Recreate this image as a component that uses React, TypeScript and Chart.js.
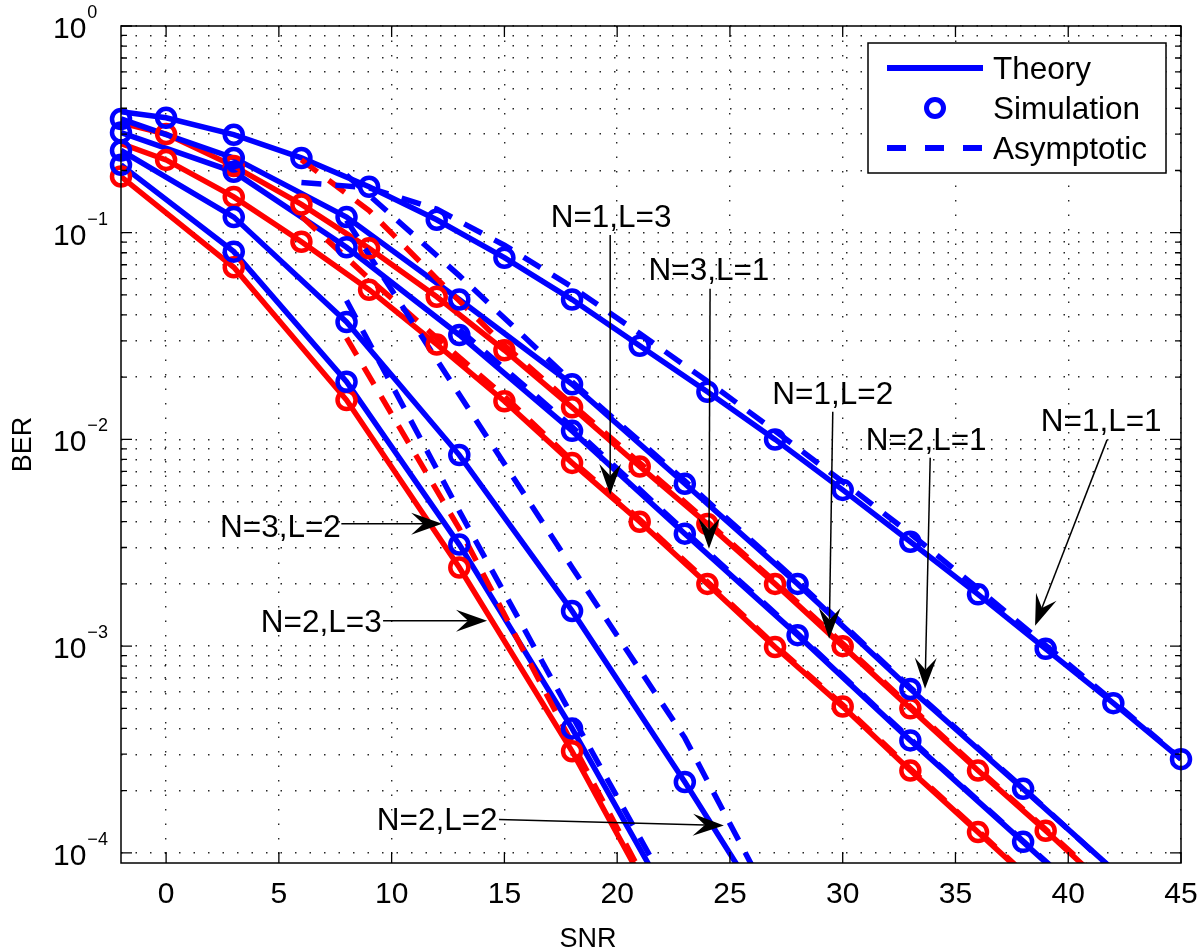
import React, { useEffect, useRef } from 'react';
import { Chart, registerables } from 'chart.js';

Chart.register(...registerables);

// ---------- axis / tick data ----------
const xMin = -2;
const xMax = 45;
const yMin = 0.0000893;
const yMax = 1;
const xTickValues = [0, 5, 10, 15, 20, 25, 30, 35, 40, 45];
const xTickLabels = ['0', '5', '10', '15', '20', '25', '30', '35', '40', '45'];
const yMajorValues = [0.0001, 0.001, 0.01, 0.1, 1];
const yMajorExponents = ['\u22124', '\u22123', '\u22122', '\u22121', '0'];
const yMinorFactors = [2, 3, 4, 5, 6, 7, 8, 9];
const xAxisTitle = 'SNR';
const yAxisTitle = 'BER';
const legendLabels = ['Theory', 'Simulation', 'Asymptotic'];

// ---------- theory curves ----------
const thN1L1X = [-2, 0, 3, 6, 9, 12, 15, 18, 21, 24, 27, 30, 33, 36, 39, 42, 45];
const thN1L1Y = [0.385, 0.36, 0.298, 0.23, 0.167, 0.1155, 0.0757, 0.0475, 0.0284, 0.017, 0.01, 0.0057, 0.0032, 0.00178, 0.00097, 0.00053, 0.000284];

const thN2L1X = [-2, 3, 8, 13, 18, 23, 28, 33, 38, 43];
const thN2L1Y = [0.355, 0.23, 0.119, 0.0475, 0.0185, 0.0061, 0.002, 0.00062, 0.000204, 0.000066];

const thN3L1X = [-2, 3, 8, 13, 18, 23, 28, 33, 38, 43];
const thN3L1Y = [0.305, 0.197, 0.085, 0.032, 0.011, 0.0035, 0.00113, 0.00035, 0.000113, 0.000036];

const thN2L2X = [-2, 3, 8, 13, 18, 23, 28];
const thN2L2Y = [0.25, 0.119, 0.037, 0.0084, 0.00148, 0.00022, 0.00003];

const thN3L2X = [-2, 3, 8, 13, 18, 23];
const thN3L2Y = [0.213, 0.081, 0.019, 0.0031, 0.0004, 0.000043];

const thN2L3X = [-2, 3, 8, 13, 18, 23];
const thN2L3Y = [0.187, 0.068, 0.0155, 0.0024, 0.00031, 0.000031];

const thN1L3X = [-2, 0, 3, 6, 9, 12, 15, 18, 21, 24, 27, 30, 33, 36, 39];
const thN1L3Y = [0.27, 0.225, 0.149, 0.0905, 0.053, 0.0288, 0.0153, 0.0077, 0.004, 0.002, 0.00099, 0.00051, 0.00025, 0.000126, 0.000063];

const thN1L2X = [-2, 0, 3, 6, 9, 12, 15, 18, 21, 24, 27, 30, 33, 36, 39, 42];
const thN1L2Y = [0.34, 0.3, 0.21, 0.137, 0.084, 0.049, 0.027, 0.0143, 0.0074, 0.0039, 0.002, 0.001, 0.0005, 0.00025, 0.000128, 0.000064];

// ---------- simulation points ----------
const simN1L1X = [0, 3, 6, 9, 12, 15, 18, 21, 24, 27, 30, 33, 36, 39, 42, 45];
const simN1L1Y = [0.36, 0.298, 0.23, 0.167, 0.1155, 0.0757, 0.0475, 0.0284, 0.017, 0.01, 0.0057, 0.0032, 0.00178, 0.00097, 0.00053, 0.000284];

const simN2L1X = [-2, 3, 8, 13, 18, 23, 28, 33, 38];
const simN2L1Y = [0.355, 0.23, 0.119, 0.0475, 0.0185, 0.0061, 0.002, 0.00062, 0.000204];

const simN3L1X = [-2, 3, 8, 13, 18, 23, 28, 33, 38];
const simN3L1Y = [0.305, 0.197, 0.085, 0.032, 0.011, 0.0035, 0.00113, 0.00035, 0.000113];

const simN2L2X = [-2, 3, 8, 13, 18, 23];
const simN2L2Y = [0.25, 0.119, 0.037, 0.0084, 0.00148, 0.00022];

const simN3L2X = [-2, 3, 8, 13, 18];
const simN3L2Y = [0.213, 0.081, 0.019, 0.0031, 0.0004];

const simN2L3X = [-2, 3, 8, 13, 18];
const simN2L3Y = [0.187, 0.068, 0.0155, 0.0024, 0.00031];

const simN1L3X = [0, 3, 6, 9, 12, 15, 18, 21, 24, 27, 30, 33, 36];
const simN1L3Y = [0.225, 0.149, 0.0905, 0.053, 0.0288, 0.0153, 0.0077, 0.004, 0.002, 0.00099, 0.00051, 0.00025, 0.000126];

const simN1L2X = [0, 3, 6, 9, 12, 15, 18, 21, 24, 27, 30, 33, 36, 39];
const simN1L2Y = [0.3, 0.21, 0.137, 0.084, 0.049, 0.027, 0.0143, 0.0074, 0.0039, 0.002, 0.001, 0.0005, 0.00025, 0.000128];

// ---------- asymptotic curves ----------
const asN1L1X = [6, 9, 12, 15, 18, 21, 24, 27, 30, 33, 36, 39, 42, 45];
const asN1L1Y = [0.175, 0.165, 0.13, 0.087, 0.0546, 0.0325, 0.0191, 0.011, 0.00624, 0.0035, 0.0019, 0.00101, 0.00054, 0.000285];

const asN2L1X = [8, 13, 18, 23, 28, 33, 38, 43];
const asN2L1Y = [0.19, 0.062, 0.019, 0.0063, 0.00205, 0.00063, 0.000206, 0.000065];

const asN3L1X = [13, 18, 23, 28, 33, 38, 43];
const asN3L1Y = [0.034, 0.0115, 0.0036, 0.00115, 0.000355, 0.000114, 0.000037];

const asN2L2X = [8, 13, 18, 23, 28];
const asN2L2Y = [0.115, 0.0165, 0.0024, 0.00036, 0.000033];

const asN3L2X = [8, 13, 18, 23];
const asN3L2Y = [0.047, 0.0045, 0.00046, 0.000048];

const asN2L3X = [8, 13, 18, 23];
const asN2L3Y = [0.031, 0.0037, 0.00034, 0.000032];

const asN1L2X = [6, 9, 12, 15, 18, 21, 24, 27, 30, 33, 36, 39, 42];
const asN1L2Y = [0.225, 0.128, 0.06, 0.0285, 0.0148, 0.0077, 0.004, 0.00205, 0.00103, 0.00051, 0.000255, 0.00013, 0.000066];

const asN1L3X = [6, 9, 12, 15, 18, 21, 24, 27, 30, 33, 36, 39];
const asN1L3Y = [0.12, 0.06, 0.031, 0.0162, 0.0079, 0.0041, 0.00205, 0.00101, 0.00052, 0.000255, 0.000128, 0.000064];

// ---------- annotations (data coordinates) ----------
const annoLabels = ['N=1,L=3', 'N=3,L=1', 'N=1,L=2', 'N=2,L=1', 'N=1,L=1', 'N=3,L=2', 'N=2,L=3', 'N=2,L=2'];
const annoTextX = [19.73, 24.07, 29.56, 33.7, 41.46, 5.07, 6.88, 12.02];
const annoTextY = [0.1206, 0.0668, 0.0168, 0.01007, 0.01245, 0.00382, 0.001327, 0.000145];
const arrowFromX = [19.69, 24.12, 29.56, 33.88, 41.72, 7.77, 9.62, 14.76];
const arrowFromY = [0.0976, 0.0535, 0.0136, 0.00815, 0.00995, 0.00391, 0.001327, 0.000145];
const arrowToX = [19.69, 24.07, 29.4, 33.65, 38.53, 12.24, 14.23, 24.73];
const arrowToY = [0.0054, 0.00296, 0.001086, 0.000622, 0.001256, 0.00391, 0.001327, 0.0001355];

// ---------- styling ----------
const BLUE = '#0000ff';
const RED = '#ff0000';
const FONT = '"Liberation Sans", Arial, Helvetica, sans-serif';

const pts = (xs: number[], ys: number[]) => xs.map((x, i) => ({ x, y: ys[i] }));

const theorySeries = [
  { x: thN1L1X, y: thN1L1Y, c: BLUE },
  { x: thN2L1X, y: thN2L1Y, c: BLUE },
  { x: thN3L1X, y: thN3L1Y, c: BLUE },
  { x: thN2L2X, y: thN2L2Y, c: BLUE },
  { x: thN3L2X, y: thN3L2Y, c: BLUE },
  { x: thN2L3X, y: thN2L3Y, c: RED },
  { x: thN1L3X, y: thN1L3Y, c: RED },
  { x: thN1L2X, y: thN1L2Y, c: RED },
];
const simSeries = [
  { x: simN1L1X, y: simN1L1Y, c: BLUE },
  { x: simN2L1X, y: simN2L1Y, c: BLUE },
  { x: simN3L1X, y: simN3L1Y, c: BLUE },
  { x: simN2L2X, y: simN2L2Y, c: BLUE },
  { x: simN3L2X, y: simN3L2Y, c: BLUE },
  { x: simN2L3X, y: simN2L3Y, c: RED },
  { x: simN1L3X, y: simN1L3Y, c: RED },
  { x: simN1L2X, y: simN1L2Y, c: RED },
];
const asymSeries = [
  { x: asN1L1X, y: asN1L1Y, c: BLUE },
  { x: asN2L1X, y: asN2L1Y, c: BLUE },
  { x: asN3L1X, y: asN3L1Y, c: BLUE },
  { x: asN2L2X, y: asN2L2Y, c: BLUE },
  { x: asN3L2X, y: asN3L2Y, c: BLUE },
  { x: asN2L3X, y: asN2L3Y, c: RED },
  { x: asN1L3X, y: asN1L3Y, c: RED },
  { x: asN1L2X, y: asN1L2Y, c: RED },
];

const LINE_W = 5.5;
const DASH = [20, 14];
const MARK_R = 9;
const MARK_W = 4.5;

function drawArrow(ctx: CanvasRenderingContext2D, x1: number, y1: number, x2: number, y2: number) {
  const dx = x2 - x1;
  const dy = y2 - y1;
  const len = Math.hypot(dx, dy) || 1;
  const ux = dx / len;
  const uy = dy / len;
  const L = 31;
  const W = 11;
  const notch = 19;
  ctx.beginPath();
  ctx.moveTo(x1, y1);
  ctx.lineTo(x2 - ux * notch, y2 - uy * notch);
  ctx.stroke();
  ctx.beginPath();
  ctx.moveTo(x2, y2);
  ctx.lineTo(x2 - ux * L - uy * W, y2 - uy * L + ux * W);
  ctx.lineTo(x2 - ux * notch, y2 - uy * notch);
  ctx.lineTo(x2 - ux * L + uy * W, y2 - uy * L - ux * W);
  ctx.closePath();
  ctx.fill();
}

const overlayPlugin = {
  id: 'matlabOverlay',
  afterDraw(chart: any) {
    const { ctx, chartArea: a, scales } = chart;
    const xs = scales.x;
    const ys = scales.y;
    ctx.save();
    ctx.setLineDash([]);
    ctx.strokeStyle = '#000';
    ctx.fillStyle = '#000';

    // frame
    ctx.lineWidth = 1.5;
    ctx.strokeRect(a.left, a.top, a.right - a.left, a.bottom - a.top);

    // inward ticks
    ctx.lineWidth = 1.3;
    ctx.beginPath();
    xTickValues.forEach((v) => {
      const p = xs.getPixelForValue(v);
      ctx.moveTo(p, a.bottom);
      ctx.lineTo(p, a.bottom - 11);
      ctx.moveTo(p, a.top);
      ctx.lineTo(p, a.top + 11);
    });
    yMajorValues.forEach((m, i) => {
      const p = ys.getPixelForValue(m);
      ctx.moveTo(a.left, p);
      ctx.lineTo(a.left + 11, p);
      ctx.moveTo(a.right, p);
      ctx.lineTo(a.right - 11, p);
      if (i < yMajorValues.length - 1) {
        yMinorFactors.forEach((f) => {
          const q = ys.getPixelForValue(m * f);
          ctx.moveTo(a.left, q);
          ctx.lineTo(a.left + 6, q);
          ctx.moveTo(a.right, q);
          ctx.lineTo(a.right - 6, q);
        });
      }
    });
    ctx.stroke();

    // x tick labels
    ctx.font = `30px ${FONT}`;
    ctx.textAlign = 'center';
    ctx.textBaseline = 'alphabetic';
    xTickValues.forEach((v, i) => {
      ctx.fillText(xTickLabels[i], xs.getPixelForValue(v), a.bottom + 40);
    });

    // y tick labels 10^n
    yMajorValues.forEach((m, i) => {
      const p = ys.getPixelForValue(m);
      const x0 = a.left - 68;
      ctx.font = `30px ${FONT}`;
      ctx.textAlign = 'left';
      ctx.fillText('10', x0, p + 12);
      const w = ctx.measureText('10').width;
      ctx.font = `18px ${FONT}`;
      ctx.fillText(yMajorExponents[i], x0 + w + 1, p - 8);
    });

    // axis titles
    ctx.font = `27px ${FONT}`;
    ctx.textAlign = 'center';
    ctx.fillText(xAxisTitle, a.left + 467, a.bottom + 84);
    ctx.save();
    ctx.translate(31, (a.top + a.bottom) / 2);
    ctx.rotate(-Math.PI / 2);
    ctx.fillText(yAxisTitle, 0, 0);
    ctx.restore();

    // legend
    const bx = a.right - 313;
    const by = a.top + 17;
    ctx.fillStyle = '#fff';
    ctx.fillRect(bx, by, 298, 130);
    ctx.strokeStyle = '#000';
    ctx.lineWidth = 1.5;
    ctx.strokeRect(bx, by, 298, 130);
    const rowY = [by + 25, by + 65, by + 105];
    ctx.strokeStyle = BLUE;
    ctx.lineWidth = 6;
    ctx.beginPath();
    ctx.moveTo(bx + 19, rowY[0]);
    ctx.lineTo(bx + 115, rowY[0]);
    ctx.stroke();
    ctx.lineWidth = MARK_W + 0.5;
    ctx.beginPath();
    ctx.arc(bx + 67, rowY[1], MARK_R - 0.5, 0, Math.PI * 2);
    ctx.stroke();
    ctx.lineWidth = 6;
    ctx.setLineDash([19, 19]);
    ctx.beginPath();
    ctx.moveTo(bx + 19, rowY[2]);
    ctx.lineTo(bx + 115, rowY[2]);
    ctx.stroke();
    ctx.setLineDash([]);
    ctx.fillStyle = '#000';
    ctx.font = `31.5px ${FONT}`;
    ctx.textAlign = 'left';
    legendLabels.forEach((t, i) => ctx.fillText(t, bx + 125, rowY[i] + 11));

    // annotations
    ctx.strokeStyle = '#000';
    ctx.fillStyle = '#000';
    ctx.lineWidth = 1.5;
    ctx.font = `31.5px ${FONT}`;
    ctx.textAlign = 'center';
    annoLabels.forEach((t, i) => {
      const tx = xs.getPixelForValue(annoTextX[i]);
      const ty = ys.getPixelForValue(annoTextY[i]);
      ctx.fillText(t, tx, ty + 11);
      drawArrow(
        ctx,
        xs.getPixelForValue(arrowFromX[i]),
        ys.getPixelForValue(arrowFromY[i]),
        xs.getPixelForValue(arrowToX[i]),
        ys.getPixelForValue(arrowToY[i])
      );
    });
    ctx.restore();
  },
};

export default function App() {
  const ref = useRef<HTMLCanvasElement>(null);
  useEffect(() => {
    const canvas = ref.current;
    if (!canvas) return;
    const datasets: any[] = [];
    theorySeries.forEach((s) =>
      datasets.push({
        data: pts(s.x, s.y),
        borderColor: s.c,
        borderWidth: LINE_W,
        pointRadius: 0,
        fill: false,
        tension: 0,
        clip: 0,
        order: 3,
      })
    );
    asymSeries.forEach((s) =>
      datasets.push({
        data: pts(s.x, s.y),
        borderColor: s.c,
        borderWidth: LINE_W,
        borderDash: DASH,
        pointRadius: 0,
        fill: false,
        tension: 0,
        clip: 0,
        order: 2,
      })
    );
    simSeries.forEach((s) =>
      datasets.push({
        data: pts(s.x, s.y),
        showLine: false,
        borderColor: s.c,
        backgroundColor: 'rgba(0,0,0,0)',
        pointStyle: 'circle',
        pointRadius: MARK_R,
        pointBorderWidth: MARK_W,
        pointBorderColor: s.c,
        pointBackgroundColor: 'rgba(0,0,0,0)',
        clip: false,
        order: 1,
      })
    );

    const gridStyle = { color: 'rgba(0,0,0,0.85)', lineWidth: 1.4, drawTicks: false };
    const borderStyle = { display: false, dash: [1.5, 13] };

    const chart = new Chart(canvas, {
      type: 'line',
      data: { datasets },
      plugins: [overlayPlugin],
      options: {
        responsive: false,
        animation: false,
        devicePixelRatio: 1,
        events: [],
        layout: { padding: { left: 121, top: 26, right: 19, bottom: 86 } },
        plugins: { legend: { display: false }, tooltip: { enabled: false }, title: { display: false } },
        scales: {
          x: {
            type: 'linear',
            min: xMin,
            max: xMax,
            bounds: 'data',
            afterBuildTicks: (axis: any) => {
              axis.ticks = xTickValues.map((v) => ({ value: v }));
            },
            ticks: { display: false },
            grid: gridStyle,
            border: borderStyle,
            title: { display: false },
          },
          y: {
            type: 'logarithmic',
            min: yMin,
            max: yMax,
            bounds: 'data',
            afterBuildTicks: (axis: any) => {
              const t: { value: number }[] = [];
              yMajorValues.forEach((m, i) => {
                t.push({ value: m });
                if (i < yMajorValues.length - 1) yMinorFactors.forEach((f) => t.push({ value: m * f }));
              });
              axis.ticks = t;
            },
            ticks: { display: false },
            grid: gridStyle,
            border: borderStyle,
            title: { display: false },
          },
        },
      } as any,
    });
    return () => chart.destroy();
  }, []);
  return (
    <div style={{ position: 'absolute', left: 0, top: 0, width: 1200, height: 949 }}>
      <canvas ref={ref} width={1200} height={949} style={{ display: 'block' }} />
    </div>
  );
}
